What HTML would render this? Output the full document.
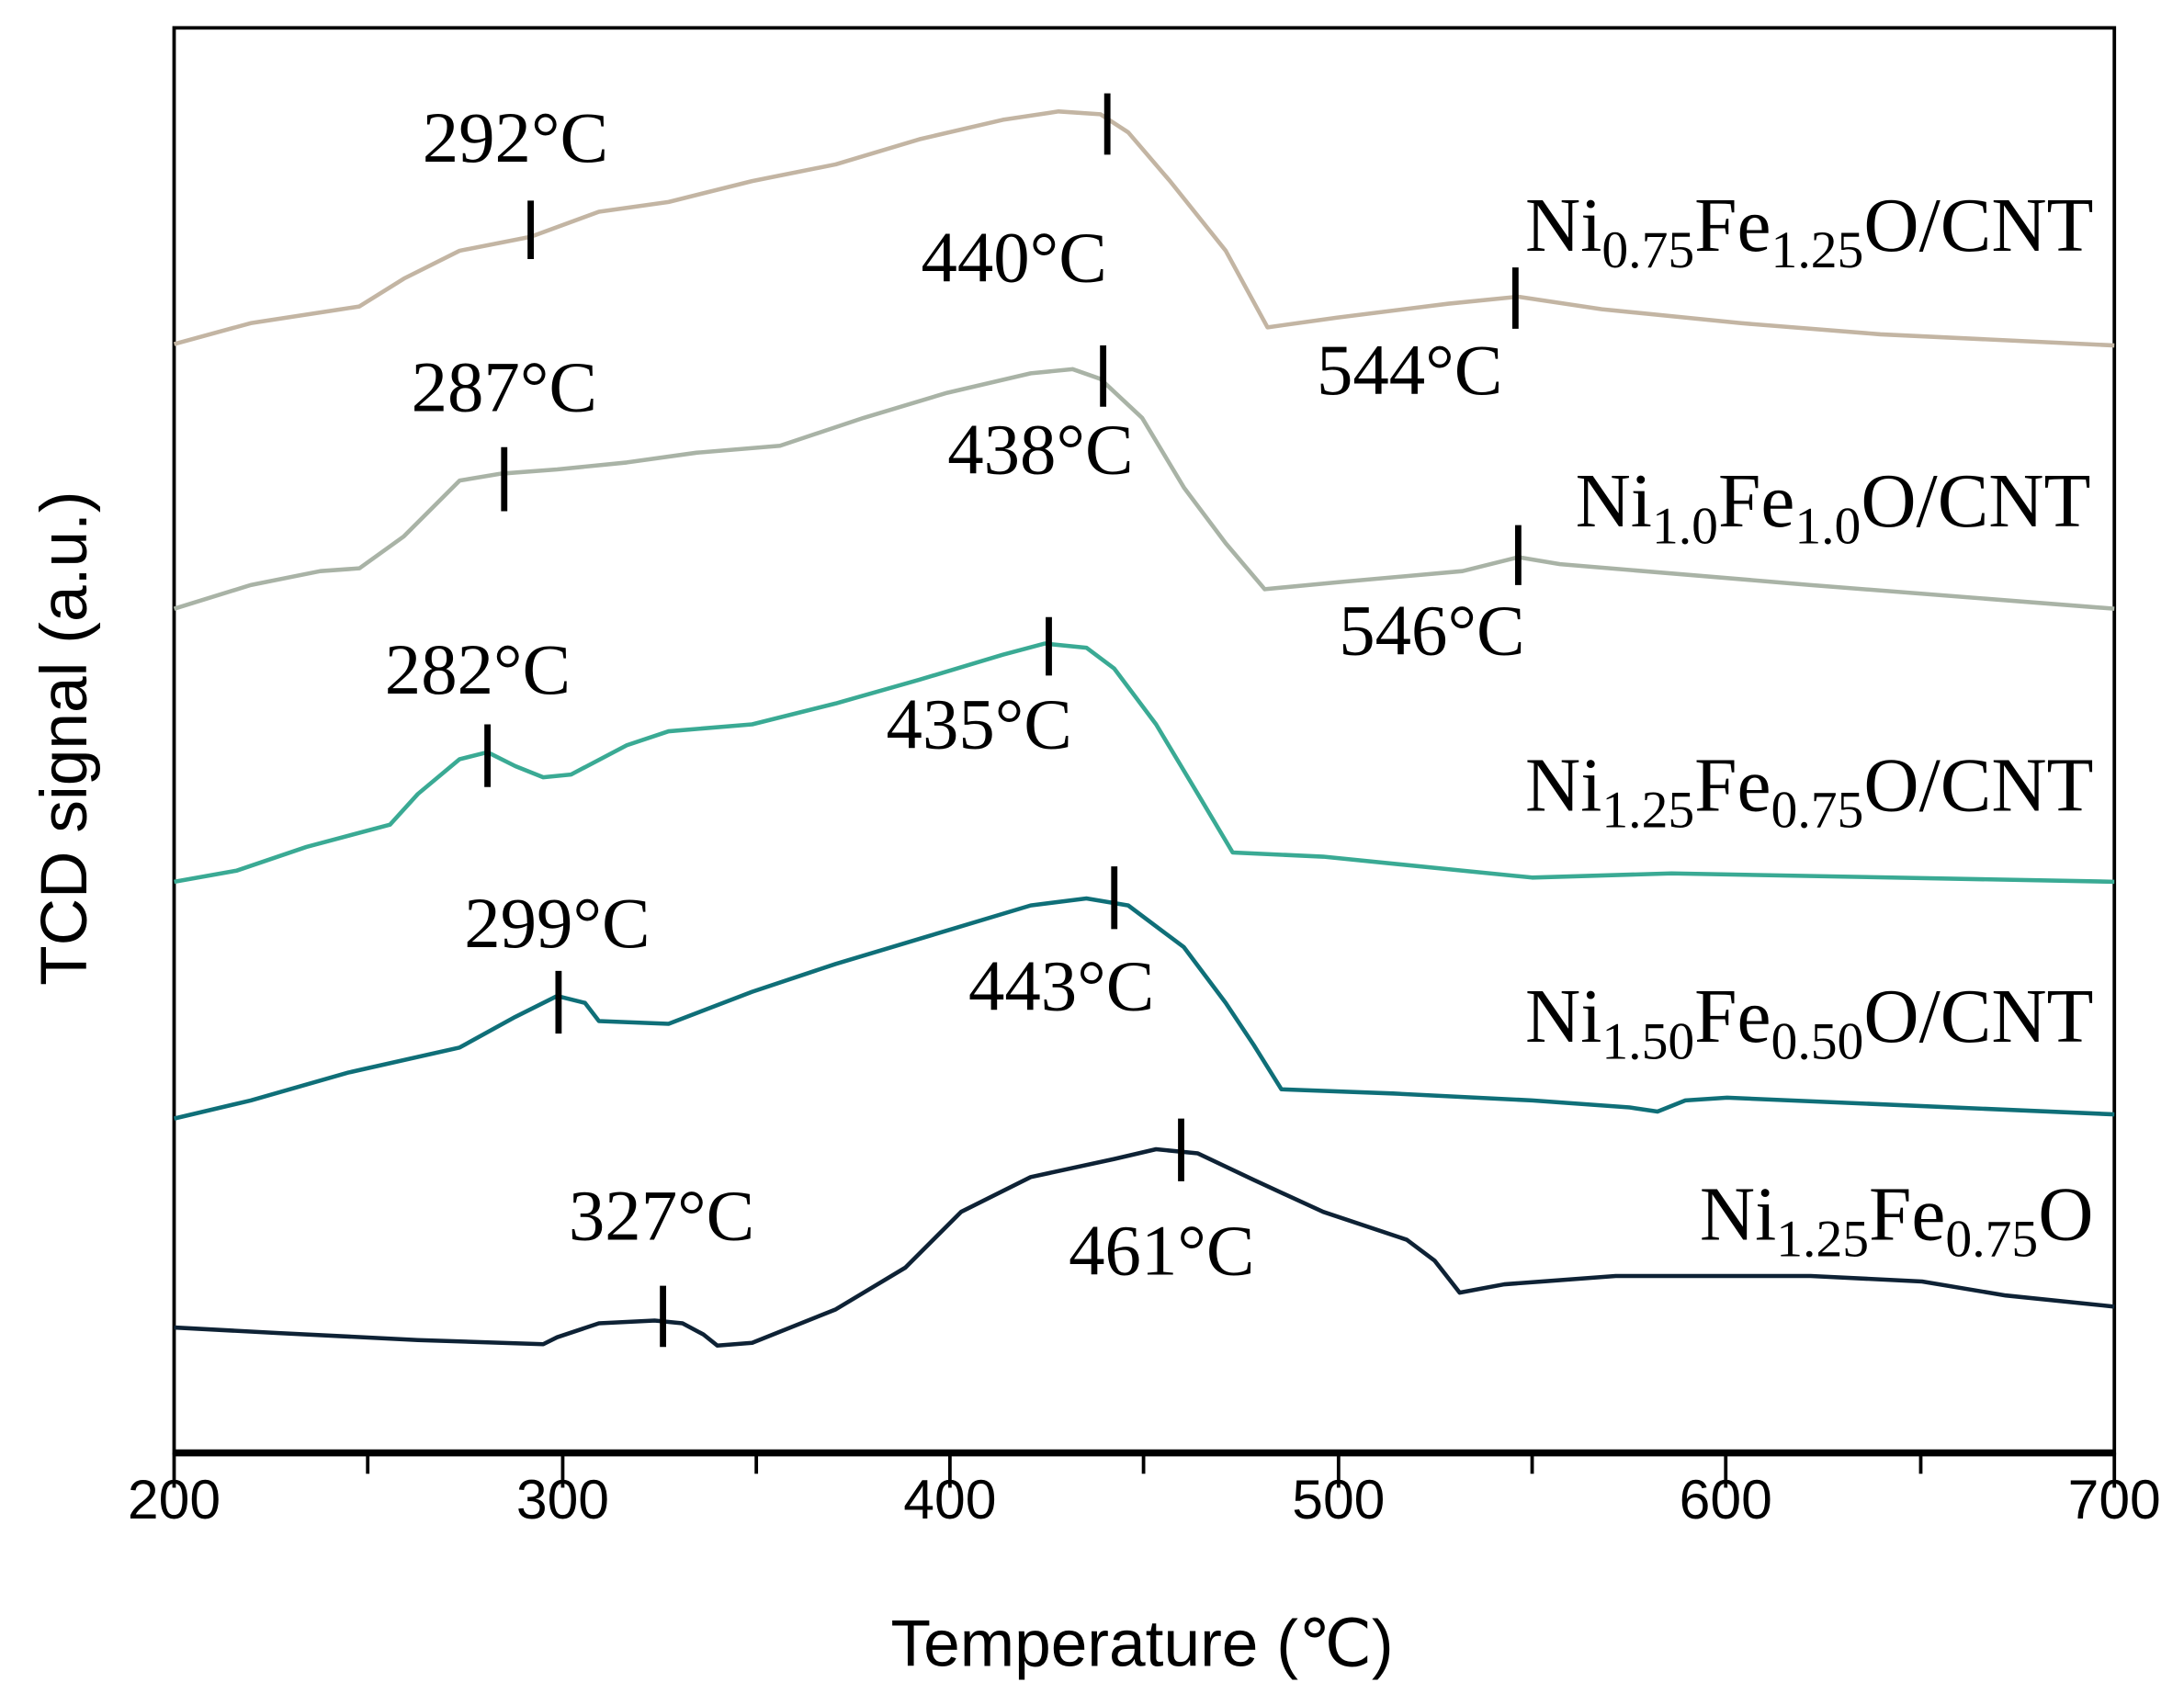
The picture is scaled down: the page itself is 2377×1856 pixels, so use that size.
<!DOCTYPE html>
<html><head><meta charset="utf-8"><style>
html,body{margin:0;padding:0;background:#fff;}
svg{display:block;}
.t{font-family:"Liberation Serif",serif;font-size:52px;fill:#000;}
.L{font-size:55px;}
.s{font-size:38px;}
.a{font-family:"Liberation Sans",sans-serif;fill:#000;}
</style></head><body>
<svg width="2377" height="1856" viewBox="0 0 1568 1224" preserveAspectRatio="none" xmlns="http://www.w3.org/2000/svg">
<rect x="0" y="0" width="1568" height="1224" fill="#fff"/>
<rect x="125" y="20" width="1393" height="1023" fill="none" stroke="#000" stroke-width="2.5"/>
<line x1="124" y1="1043" x2="1519" y2="1043" stroke="#000" stroke-width="5"/>
<g stroke="#000" stroke-width="2.5">
<line x1="125" y1="1043" x2="125" y2="1068"/><line x1="264" y1="1043" x2="264" y2="1058"/>
<line x1="404" y1="1043" x2="404" y2="1068"/><line x1="543" y1="1043" x2="543" y2="1058"/>
<line x1="682" y1="1043" x2="682" y2="1068"/><line x1="821" y1="1043" x2="821" y2="1058"/>
<line x1="961" y1="1043" x2="961" y2="1068"/><line x1="1100" y1="1043" x2="1100" y2="1058"/>
<line x1="1239" y1="1043" x2="1239" y2="1068"/><line x1="1379" y1="1043" x2="1379" y2="1058"/>
<line x1="1518" y1="1043" x2="1518" y2="1068"/>
</g>
<g class="a" font-size="40" text-anchor="middle">
<text x="125" y="1090">200</text><text x="404" y="1090">300</text><text x="682" y="1090">400</text>
<text x="961" y="1090">500</text><text x="1239" y="1090">600</text><text x="1518" y="1090">700</text>
</g>
<text class="a" x="820" y="1196" font-size="47" text-anchor="middle">Temperature (℃)</text>
<text class="a" x="0" y="0" font-size="47" text-anchor="middle" transform="translate(62,530) rotate(-90)">TCD signal (a.u.)</text>

<g fill="none" stroke-width="3" stroke-linejoin="round">
<polyline stroke="#c3b5a3" points="125,247 180,232 245,222 258,220 290,200 330,180 381,170 430,152 480,145 540,130 600,118 660,100 720,86 760,80 790,82 810,95 840,130 880,180 910,235 960,228 1040,218 1090,213 1150,222 1250,232 1350,240 1518,248"/>
<polyline stroke="#a9b3a6" points="125,437 180,420 230,410 258,408 290,385 330,345 360,340 400,337 450,332 500,325 560,320 620,300 680,282 740,268 770,265 790,272 820,300 850,350 880,390 908,423 960,418 1050,410 1090,400 1120,405 1300,420 1518,437"/>
<polyline stroke="#3aaa94" points="125,633 170,625 220,608 280,592 300,570 330,545 350,540 370,550 390,558 410,556 450,535 480,525 540,520 600,505 660,488 720,470 750,462 780,465 800,480 830,520 860,570 885,612 950,615 1050,625 1100,630 1200,627 1518,633"/>
<polyline stroke="#0f6f78" points="125,803 180,790 250,770 330,752 370,730 400,715 420,720 430,733 480,735 540,712 600,692 680,668 740,650 780,645 810,650 850,680 880,720 900,750 920,782 1000,785 1100,790 1170,795 1190,798 1210,790 1240,788 1518,800"/>
<polyline stroke="#0e2235" points="125,953 200,957 300,962 390,965 400,960 430,950 470,948 490,950 505,958 515,966 540,964 600,940 650,910 690,870 740,845 800,832 830,825 860,828 900,847 950,870 1010,890 1030,905 1048,928 1080,922 1160,916 1300,916 1380,920 1440,930 1518,938"/>
</g>
<g stroke="#000" stroke-width="4.5">
<line x1="381" y1="144" x2="381" y2="186"/><line x1="795" y1="67" x2="795" y2="111"/><line x1="1088" y1="192" x2="1088" y2="236"/>
<line x1="362" y1="321" x2="362" y2="367"/><line x1="792" y1="248" x2="792" y2="292"/><line x1="1090" y1="377" x2="1090" y2="420"/>
<line x1="350" y1="520" x2="350" y2="565"/><line x1="753" y1="443" x2="753" y2="485"/>
<line x1="401" y1="697" x2="401" y2="742"/><line x1="800" y1="622" x2="800" y2="667"/>
<line x1="476" y1="923" x2="476" y2="967"/><line x1="848" y1="803" x2="848" y2="848"/>
</g>
<g class="t" text-anchor="middle">
<text x="370" y="116">292°C</text><text x="728" y="202">440°C</text><text x="1012" y="283">544°C</text>
<text x="362" y="295">287°C</text><text x="747" y="340">438°C</text><text x="1028" y="470">546°C</text>
<text x="343" y="498">282°C</text><text x="703" y="537">435°C</text>
<text x="400" y="680">299°C</text><text x="762" y="725">443°C</text>
<text x="475" y="890">327°C</text><text x="834" y="915">461°C</text>
</g>
<g class="t L" text-anchor="end">
<text x="1503" y="180">Ni<tspan class="s" dy="12">0.75</tspan><tspan dy="-12">Fe</tspan><tspan class="s" dy="12">1.25</tspan><tspan dy="-12">O/CNT</tspan></text>
<text x="1501" y="378">Ni<tspan class="s" dy="12">1.0</tspan><tspan dy="-12">Fe</tspan><tspan class="s" dy="12">1.0</tspan><tspan dy="-12">O/CNT</tspan></text>
<text x="1503" y="582">Ni<tspan class="s" dy="12">1.25</tspan><tspan dy="-12">Fe</tspan><tspan class="s" dy="12">0.75</tspan><tspan dy="-12">O/CNT</tspan></text>
<text x="1503" y="748">Ni<tspan class="s" dy="12">1.50</tspan><tspan dy="-12">Fe</tspan><tspan class="s" dy="12">0.50</tspan><tspan dy="-12">O/CNT</tspan></text>
<text x="1503" y="890">Ni<tspan class="s" dy="12">1.25</tspan><tspan dy="-12">Fe</tspan><tspan class="s" dy="12">0.75</tspan><tspan dy="-12">O</tspan></text>
</g>
</svg>
</body></html>
